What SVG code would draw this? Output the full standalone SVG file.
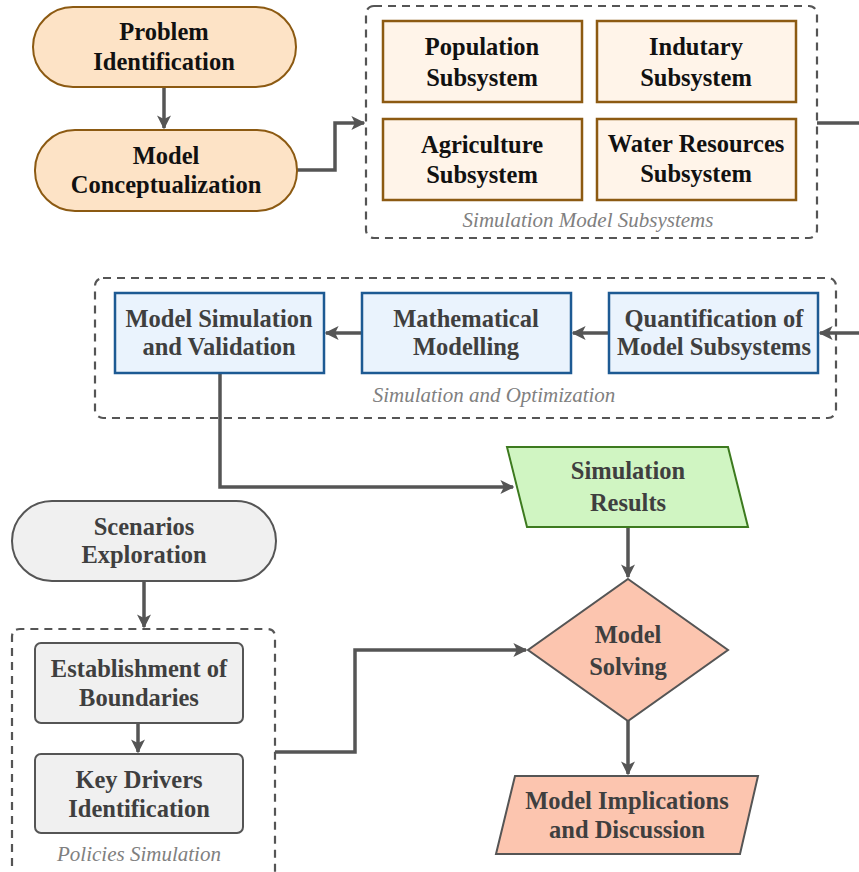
<svg xmlns="http://www.w3.org/2000/svg" width="859" height="872" viewBox="0 0 859 872">
<defs>
<marker id="ah" viewBox="0 0 10 10" refX="9" refY="5" markerWidth="4" markerHeight="4" orient="auto" markerUnits="strokeWidth">
<path d="M0,0 L10,5 L0,10 L2.5,5 z" fill="#555"/>
</marker>
<style>
text{font-family:'Liberation Serif','Times New Roman','DejaVu Serif',serif}
.t{font-weight:bold;font-size:24.5px;text-anchor:middle}
.dk{fill:#111}
.gy{fill:#3f3f3f}
.lbl{font-style:italic;font-size:21px;fill:#808080;text-anchor:middle}
.pill{fill:#fde3c6;stroke:#8c5a12;stroke-width:2}
.sub{fill:#fff4e9;stroke:#8c5a12;stroke-width:2.5}
.blue{fill:#eaf3fd;stroke:#1d5a93;stroke-width:2.5}
.grey{fill:#f0f0f0;stroke:#555;stroke-width:2}
.sal{fill:#fcc5af;stroke:#555;stroke-width:2}
.grn{fill:#d0f5c2;stroke:#3d7a1f;stroke-width:2}
.dash{fill:none;stroke:#555;stroke-width:2.2;stroke-dasharray:8 6}
.c{fill:none;stroke:#555;stroke-width:3.5}
.ca{fill:none;stroke:#555;stroke-width:3.5;marker-end:url(#ah)}
</style>
</defs>
<rect width="859" height="872" fill="#fff"/>

<g id="containers">
<rect x="366" y="6" width="451" height="232" rx="8" class="dash"/>
<rect x="95" y="278" width="741" height="140" rx="8" class="dash"/>
<path d="M12,880 L12,637 Q12,629 20,629 L267,629 Q275,629 275,637 L275,880" class="dash"/>
<text x="588" y="227" class="lbl">Simulation Model Subsystems</text>
<text x="494" y="402" class="lbl">Simulation and Optimization</text>
<text x="139" y="861" class="lbl">Policies Simulation</text>
</g>

<g id="connectors">
<path d="M164,87 L164,128" class="ca"/>
<path d="M297,170 L335,170 L335,123 L364,123" class="ca"/>
<path d="M817,123 L859,123" class="c"/>
<path d="M859,333 L820,333" class="ca"/>
<path d="M609,333 L573,333" class="ca"/>
<path d="M362,333 L326,333" class="ca"/>
<path d="M220,373 L220,487 L513,487" class="ca"/>
<path d="M628,527 L628,577" class="ca"/>
<path d="M628,721 L628,774" class="ca"/>
<path d="M144,581 L144,627" class="ca"/>
<path d="M138,723 L138,752" class="ca"/>
<path d="M275,752 L355,752 L355,650 L526,650" class="ca"/>
</g>

<g id="problem-identification">
<rect x="33" y="7" width="263" height="80" rx="40" class="pill"/>
<text x="164" y="40" class="t dk">Problem</text>
<text x="164" y="70" class="t dk">Identification</text>
</g>
<g id="model-conceptualization">
<rect x="35" y="130" width="262" height="81" rx="40" class="pill"/>
<text x="166" y="164" class="t dk">Model</text>
<text x="166" y="193" class="t dk">Conceptualization</text>
</g>

<g id="population">
<rect x="383" y="21" width="199" height="81" class="sub"/>
<text x="482" y="55" class="t dk">Population</text>
<text x="482" y="86" class="t dk">Subsystem</text>
</g>
<g id="industry">
<rect x="597" y="21" width="199" height="81" class="sub"/>
<text x="696" y="55" class="t dk">Indutary</text>
<text x="696" y="86" class="t dk">Subsystem</text>
</g>
<g id="agriculture">
<rect x="383" y="119" width="199" height="81" class="sub"/>
<text x="482" y="153" class="t dk">Agriculture</text>
<text x="482" y="183" class="t dk">Subsystem</text>
</g>
<g id="water">
<rect x="597" y="119" width="199" height="81" class="sub"/>
<text x="696" y="152" class="t dk">Water Resources</text>
<text x="696" y="182" class="t dk">Subsystem</text>
</g>

<g id="model-simulation">
<rect x="115" y="293" width="209" height="80" class="blue"/>
<text x="219" y="327" class="t gy">Model Simulation</text>
<text x="219" y="355" class="t gy">and Validation</text>
</g>
<g id="mathematical-modelling">
<rect x="362" y="293" width="209" height="80" class="blue"/>
<text x="466" y="327" class="t gy">Mathematical</text>
<text x="466" y="355" class="t gy">Modelling</text>
</g>
<g id="quantification">
<rect x="609" y="293" width="209" height="80" class="blue"/>
<text x="714" y="327" class="t gy">Quantification of</text>
<text x="714" y="355" class="t gy">Model Subsystems</text>
</g>

<g id="simulation-results">
<polygon points="507,447 728,447 748,527 527,527" class="grn"/>
<text x="628" y="479" class="t gy">Simulation</text>
<text x="628" y="511" class="t gy">Results</text>
</g>
<g id="model-solving">
<polygon points="628,579 728,650 628,721 528,650" class="sal"/>
<text x="628" y="643" class="t gy">Model</text>
<text x="628" y="675" class="t gy">Solving</text>
</g>
<g id="model-implications">
<polygon points="515,776 758,776 740,854 496,854" class="sal"/>
<text x="627" y="809" class="t gy">Model Implications</text>
<text x="627" y="838" class="t gy">and Discussion</text>
</g>

<g id="scenarios">
<rect x="12" y="501" width="264" height="80" rx="40" class="grey"/>
<text x="144" y="535" class="t gy">Scenarios</text>
<text x="144" y="563" class="t gy">Exploration</text>
</g>
<g id="boundaries">
<rect x="35" y="643" width="208" height="80" rx="6" class="grey"/>
<text x="139" y="677" class="t gy">Establishment of</text>
<text x="139" y="706" class="t gy">Boundaries</text>
</g>
<g id="key-drivers">
<rect x="35" y="754" width="208" height="79" rx="6" class="grey"/>
<text x="139" y="788" class="t gy">Key Drivers</text>
<text x="139" y="817" class="t gy">Identification</text>
</g>
</svg>
